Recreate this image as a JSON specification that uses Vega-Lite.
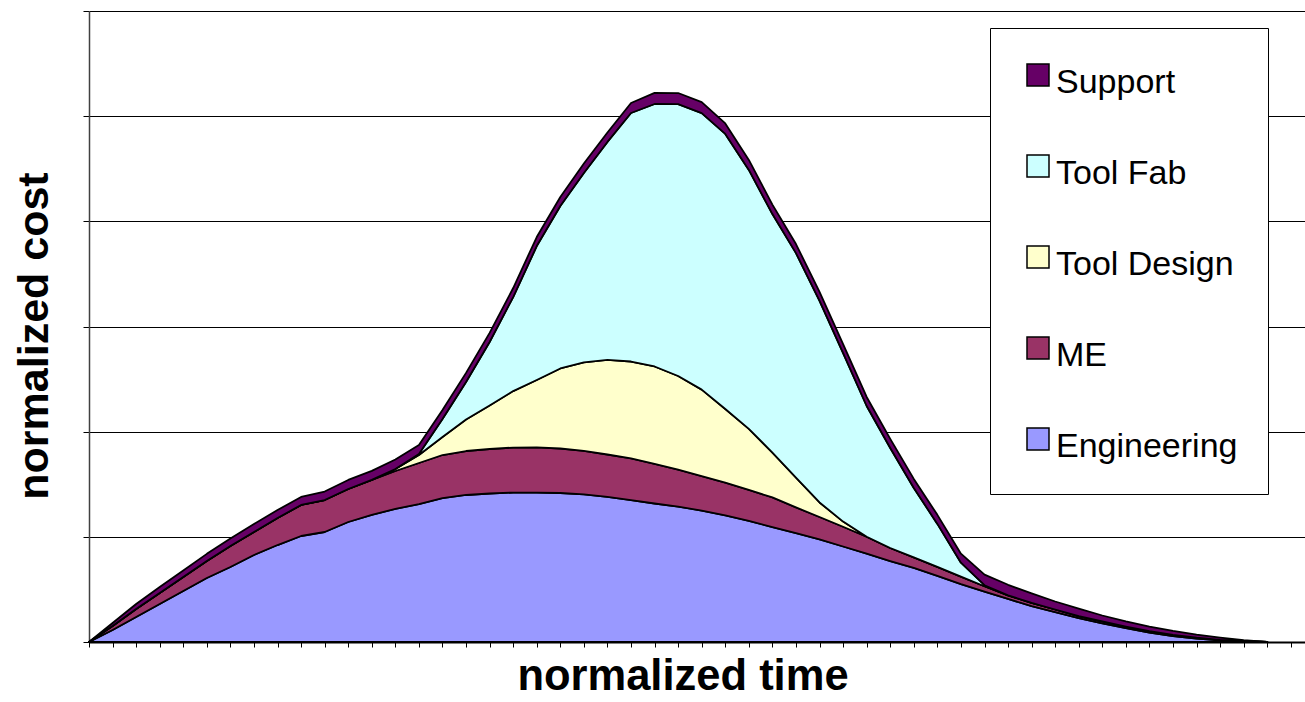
{
"$schema": "https://vega.github.io/schema/vega-lite/v6.json",
"width": 1216,
"height": 631,
"autosize": {"type": "none"},
"padding": {"left": 89, "top": 11, "right": 0, "bottom": 60},
"background": "white",
"config": {"view": {"stroke": null}, "font": "Liberation Sans"},
"datasets": {
"seriesInfo": [
{"series": "Engineering", "stack": 1},
{"series": "ME", "stack": 2},
{"series": "Tool Design", "stack": 3},
{"series": "Tool Fab", "stack": 4},
{"series": "Support", "stack": 5}
],
"cost": [
{"t":0,"series":"Engineering","cost":0},{"t":1,"series":"Engineering","cost":0.114},{"t":2,"series":"Engineering","cost":0.238},{"t":3,"series":"Engineering","cost":0.361},{"t":4,"series":"Engineering","cost":0.485},{"t":5,"series":"Engineering","cost":0.609},{"t":6,"series":"Engineering","cost":0.713},{"t":7,"series":"Engineering","cost":0.827},{"t":8,"series":"Engineering","cost":0.922},{"t":9,"series":"Engineering","cost":1.008},{"t":10,"series":"Engineering","cost":1.046},{"t":11,"series":"Engineering","cost":1.141},{"t":12,"series":"Engineering","cost":1.208},{"t":13,"series":"Engineering","cost":1.265},{"t":14,"series":"Engineering","cost":1.312},{"t":15,"series":"Engineering","cost":1.369},{"t":16,"series":"Engineering","cost":1.398},{"t":17,"series":"Engineering","cost":1.412},{"t":18,"series":"Engineering","cost":1.421},{"t":19,"series":"Engineering","cost":1.421},{"t":20,"series":"Engineering","cost":1.417},{"t":21,"series":"Engineering","cost":1.403},{"t":22,"series":"Engineering","cost":1.379},{"t":23,"series":"Engineering","cost":1.350},{"t":24,"series":"Engineering","cost":1.317},{"t":25,"series":"Engineering","cost":1.288},{"t":26,"series":"Engineering","cost":1.250},{"t":27,"series":"Engineering","cost":1.203},{"t":28,"series":"Engineering","cost":1.151},{"t":29,"series":"Engineering","cost":1.093},{"t":30,"series":"Engineering","cost":1.036},{"t":31,"series":"Engineering","cost":0.975},{"t":32,"series":"Engineering","cost":0.908},{"t":33,"series":"Engineering","cost":0.841},{"t":34,"series":"Engineering","cost":0.770},{"t":35,"series":"Engineering","cost":0.704},{"t":36,"series":"Engineering","cost":0.628},{"t":37,"series":"Engineering","cost":0.551},{"t":38,"series":"Engineering","cost":0.480},{"t":39,"series":"Engineering","cost":0.409},{"t":40,"series":"Engineering","cost":0.342},{"t":41,"series":"Engineering","cost":0.285},{"t":42,"series":"Engineering","cost":0.228},{"t":43,"series":"Engineering","cost":0.176},{"t":44,"series":"Engineering","cost":0.133},{"t":45,"series":"Engineering","cost":0.090},{"t":46,"series":"Engineering","cost":0.057},{"t":47,"series":"Engineering","cost":0.033},{"t":48,"series":"Engineering","cost":0.016},{"t":49,"series":"Engineering","cost":0.005},{"t":50,"series":"Engineering","cost":0},
{"t":0,"series":"ME","cost":0},{"t":1,"series":"ME","cost":0.038},{"t":2,"series":"ME","cost":0.076},{"t":3,"series":"ME","cost":0.105},{"t":4,"series":"ME","cost":0.133},{"t":5,"series":"ME","cost":0.162},{"t":6,"series":"ME","cost":0.200},{"t":7,"series":"ME","cost":0.219},{"t":8,"series":"ME","cost":0.257},{"t":9,"series":"ME","cost":0.295},{"t":10,"series":"ME","cost":0.304},{"t":11,"series":"ME","cost":0.314},{"t":12,"series":"ME","cost":0.333},{"t":13,"series":"ME","cost":0.361},{"t":14,"series":"ME","cost":0.390},{"t":15,"series":"ME","cost":0.409},{"t":16,"series":"ME","cost":0.418},{"t":17,"series":"ME","cost":0.423},{"t":18,"series":"ME","cost":0.428},{"t":19,"series":"ME","cost":0.430},{"t":20,"series":"ME","cost":0.423},{"t":21,"series":"ME","cost":0.414},{"t":22,"series":"ME","cost":0.404},{"t":23,"series":"ME","cost":0.395},{"t":24,"series":"ME","cost":0.376},{"t":25,"series":"ME","cost":0.350},{"t":26,"series":"ME","cost":0.328},{"t":27,"series":"ME","cost":0.312},{"t":28,"series":"ME","cost":0.295},{"t":29,"series":"ME","cost":0.282},{"t":30,"series":"ME","cost":0.244},{"t":31,"series":"ME","cost":0.214},{"t":32,"series":"ME","cost":0.188},{"t":33,"series":"ME","cost":0.160},{"t":34,"series":"ME","cost":0.124},{"t":35,"series":"ME","cost":0.100},{"t":36,"series":"ME","cost":0.086},{"t":37,"series":"ME","cost":0.070},{"t":38,"series":"ME","cost":0.050},{"t":39,"series":"ME","cost":0.035},{"t":40,"series":"ME","cost":0.030},{"t":41,"series":"ME","cost":0.024},{"t":42,"series":"ME","cost":0.019},{"t":43,"series":"ME","cost":0.019},{"t":44,"series":"ME","cost":0.014},{"t":45,"series":"ME","cost":0.014},{"t":46,"series":"ME","cost":0.010},{"t":47,"series":"ME","cost":0.008},{"t":48,"series":"ME","cost":0.005},{"t":49,"series":"ME","cost":0.002},{"t":50,"series":"ME","cost":0},
{"t":0,"series":"Tool Design","cost":0},{"t":1,"series":"Tool Design","cost":0},{"t":2,"series":"Tool Design","cost":0},{"t":3,"series":"Tool Design","cost":0},{"t":4,"series":"Tool Design","cost":0},{"t":5,"series":"Tool Design","cost":0},{"t":6,"series":"Tool Design","cost":0},{"t":7,"series":"Tool Design","cost":0},{"t":8,"series":"Tool Design","cost":0},{"t":9,"series":"Tool Design","cost":0},{"t":10,"series":"Tool Design","cost":0},{"t":11,"series":"Tool Design","cost":0},{"t":12,"series":"Tool Design","cost":0},{"t":13,"series":"Tool Design","cost":0.019},{"t":14,"series":"Tool Design","cost":0.076},{"t":15,"series":"Tool Design","cost":0.171},{"t":16,"series":"Tool Design","cost":0.300},{"t":17,"series":"Tool Design","cost":0.414},{"t":18,"series":"Tool Design","cost":0.537},{"t":19,"series":"Tool Design","cost":0.640},{"t":20,"series":"Tool Design","cost":0.761},{"t":21,"series":"Tool Design","cost":0.841},{"t":22,"series":"Tool Design","cost":0.899},{"t":23,"series":"Tool Design","cost":0.922},{"t":24,"series":"Tool Design","cost":0.927},{"t":25,"series":"Tool Design","cost":0.891},{"t":26,"series":"Tool Design","cost":0.822},{"t":27,"series":"Tool Design","cost":0.701},{"t":28,"series":"Tool Design","cost":0.580},{"t":29,"series":"Tool Design","cost":0.426},{"t":30,"series":"Tool Design","cost":0.283},{"t":31,"series":"Tool Design","cost":0.138},{"t":32,"series":"Tool Design","cost":0.049},{"t":33,"series":"Tool Design","cost":0},{"t":34,"series":"Tool Design","cost":0},{"t":35,"series":"Tool Design","cost":0},{"t":36,"series":"Tool Design","cost":0},{"t":37,"series":"Tool Design","cost":0},{"t":38,"series":"Tool Design","cost":0},{"t":39,"series":"Tool Design","cost":0},{"t":40,"series":"Tool Design","cost":0},{"t":41,"series":"Tool Design","cost":0},{"t":42,"series":"Tool Design","cost":0},{"t":43,"series":"Tool Design","cost":0},{"t":44,"series":"Tool Design","cost":0},{"t":45,"series":"Tool Design","cost":0},{"t":46,"series":"Tool Design","cost":0},{"t":47,"series":"Tool Design","cost":0},{"t":48,"series":"Tool Design","cost":0},{"t":49,"series":"Tool Design","cost":0},{"t":50,"series":"Tool Design","cost":0},
{"t":0,"series":"Tool Fab","cost":0},{"t":1,"series":"Tool Fab","cost":0},{"t":2,"series":"Tool Fab","cost":0},{"t":3,"series":"Tool Fab","cost":0},{"t":4,"series":"Tool Fab","cost":0},{"t":5,"series":"Tool Fab","cost":0},{"t":6,"series":"Tool Fab","cost":0},{"t":7,"series":"Tool Fab","cost":0},{"t":8,"series":"Tool Fab","cost":0},{"t":9,"series":"Tool Fab","cost":0},{"t":10,"series":"Tool Fab","cost":0},{"t":11,"series":"Tool Fab","cost":0},{"t":12,"series":"Tool Fab","cost":0},{"t":13,"series":"Tool Fab","cost":0},{"t":14,"series":"Tool Fab","cost":0.010},{"t":15,"series":"Tool Fab","cost":0.171},{"t":16,"series":"Tool Fab","cost":0.357},{"t":17,"series":"Tool Fab","cost":0.604},{"t":18,"series":"Tool Fab","cost":0.894},{"t":19,"series":"Tool Fab","cost":1.274},{"t":20,"series":"Tool Fab","cost":1.545},{"t":21,"series":"Tool Fab","cost":1.802},{"t":22,"series":"Tool Fab","cost":2.073},{"t":23,"series":"Tool Fab","cost":2.363},{"t":24,"series":"Tool Fab","cost":2.496},{"t":25,"series":"Tool Fab","cost":2.586},{"t":26,"series":"Tool Fab","cost":2.629},{"t":27,"series":"Tool Fab","cost":2.615},{"t":28,"series":"Tool Fab","cost":2.463},{"t":29,"series":"Tool Fab","cost":2.268},{"t":30,"series":"Tool Fab","cost":2.135},{"t":31,"series":"Tool Fab","cost":1.916},{"t":32,"series":"Tool Fab","cost":1.602},{"t":33,"series":"Tool Fab","cost":1.243},{"t":34,"series":"Tool Fab","cost":0.951},{"t":35,"series":"Tool Fab","cost":0.661},{"t":36,"series":"Tool Fab","cost":0.409},{"t":37,"series":"Tool Fab","cost":0.133},{"t":38,"series":"Tool Fab","cost":0.010},{"t":39,"series":"Tool Fab","cost":0},{"t":40,"series":"Tool Fab","cost":0},{"t":41,"series":"Tool Fab","cost":0},{"t":42,"series":"Tool Fab","cost":0},{"t":43,"series":"Tool Fab","cost":0},{"t":44,"series":"Tool Fab","cost":0},{"t":45,"series":"Tool Fab","cost":0},{"t":46,"series":"Tool Fab","cost":0},{"t":47,"series":"Tool Fab","cost":0},{"t":48,"series":"Tool Fab","cost":0},{"t":49,"series":"Tool Fab","cost":0},{"t":50,"series":"Tool Fab","cost":0},
{"t":0,"series":"Support","cost":0},{"t":1,"series":"Support","cost":0.029},{"t":2,"series":"Support","cost":0.048},{"t":3,"series":"Support","cost":0.057},{"t":4,"series":"Support","cost":0.062},{"t":5,"series":"Support","cost":0.067},{"t":6,"series":"Support","cost":0.071},{"t":7,"series":"Support","cost":0.076},{"t":8,"series":"Support","cost":0.076},{"t":9,"series":"Support","cost":0.076},{"t":10,"series":"Support","cost":0.081},{"t":11,"series":"Support","cost":0.086},{"t":12,"series":"Support","cost":0.086},{"t":13,"series":"Support","cost":0.090},{"t":14,"series":"Support","cost":0.086},{"t":15,"series":"Support","cost":0.086},{"t":16,"series":"Support","cost":0.086},{"t":17,"series":"Support","cost":0.086},{"t":18,"series":"Support","cost":0.086},{"t":19,"series":"Support","cost":0.086},{"t":20,"series":"Support","cost":0.086},{"t":21,"series":"Support","cost":0.090},{"t":22,"series":"Support","cost":0.090},{"t":23,"series":"Support","cost":0.095},{"t":24,"series":"Support","cost":0.105},{"t":25,"series":"Support","cost":0.105},{"t":26,"series":"Support","cost":0.105},{"t":27,"series":"Support","cost":0.100},{"t":28,"series":"Support","cost":0.095},{"t":29,"series":"Support","cost":0.090},{"t":30,"series":"Support","cost":0.086},{"t":31,"series":"Support","cost":0.086},{"t":32,"series":"Support","cost":0.086},{"t":33,"series":"Support","cost":0.086},{"t":34,"series":"Support","cost":0.086},{"t":35,"series":"Support","cost":0.086},{"t":36,"series":"Support","cost":0.086},{"t":37,"series":"Support","cost":0.086},{"t":38,"series":"Support","cost":0.100},{"t":39,"series":"Support","cost":0.100},{"t":40,"series":"Support","cost":0.090},{"t":41,"series":"Support","cost":0.076},{"t":42,"series":"Support","cost":0.071},{"t":43,"series":"Support","cost":0.057},{"t":44,"series":"Support","cost":0.048},{"t":45,"series":"Support","cost":0.043},{"t":46,"series":"Support","cost":0.038},{"t":47,"series":"Support","cost":0.029},{"t":48,"series":"Support","cost":0.021},{"t":49,"series":"Support","cost":0.011},{"t":50,"series":"Support","cost":0}
]
},
"data": {"name": "cost"},
"transform": [
{"lookup": "series", "from": {"data": {"name": "seriesInfo"}, "key": "series", "fields": ["stack"]}}
],
"mark": {"type": "area", "stroke": "black", "strokeWidth": 1.8, "opacity": 1, "interpolate": "linear", "strokeJoin": "round"},
"encoding": {
"x": {"field": "t", "type": "quantitative",
"scale": {"domain": [0, 51.6], "nice": false, "zero": false},
"axis": {"values": [0,1,2,3,4,5,6,7,8,9,10,11,12,13,14,15,16,17,18,19,20,21,22,23,24,25,26,27,28,29,30,31,32,33,34,35,36,37,38,39,40,41,42,43,44,45,46,47,48,49,50,51],
"labels": false, "grid": false, "ticks": true, "tickSize": 5, "tickColor": "black", "tickWidth": 1,
"domainColor": "black", "domainWidth": 2,
"title": "normalized time", "titleFont": "Liberation Sans", "titleFontSize": 43.5, "titleFontWeight": "bold", "titleColor": "black",
"titleX": 593.5, "titleY": 47, "titleBaseline": "alphabetic", "titleAlign": "center"}},
"y": {"field": "cost", "type": "quantitative", "stack": "zero",
"scale": {"domain": [0, 6], "nice": false},
"axis": {"values": [0,1,2,3,4,5,6], "labels": false, "grid": true, "gridColor": "black", "gridWidth": 1,
"ticks": true, "tickSize": 6, "tickColor": "black", "tickWidth": 1,
"domainColor": "#404040", "domainWidth": 1.5,
"title": "normalized cost", "titleFont": "Liberation Sans", "titleFontSize": 43, "titleFontWeight": "bold", "titleColor": "black",
"titleX": -42, "titleY": 324.5, "titleAngle": -90, "titleBaseline": "alphabetic", "titleAlign": "center"}},
"color": {"field": "series", "type": "nominal",
"scale": {"domain": ["Support", "Tool Fab", "Tool Design", "ME", "Engineering"], "range": ["#660066", "#CCFFFF", "#FFFFCC", "#993366", "#9999FF"]},
"legend": {"orient": "none", "legendX": 901, "legendY": 17, "title": null, "direction": "vertical",
"symbolType": "square", "symbolSize": 484, "symbolStrokeColor": "black", "symbolStrokeWidth": 1.5, "symbolOpacity": 1, "symbolOffset": 1,
"labelFont": "Liberation Sans", "labelFontSize": 34, "labelColor": "black", "labelOffset": 1, "labelLimit": 400,
"rowPadding": 49, "padding": 30, "strokeColor": "black", "fillColor": "white",
"encode": {"labels": {"update": {"dy": {"value": 8}}}}}},
"order": {"field": "stack", "type": "quantitative", "sort": "ascending"}
}
}
